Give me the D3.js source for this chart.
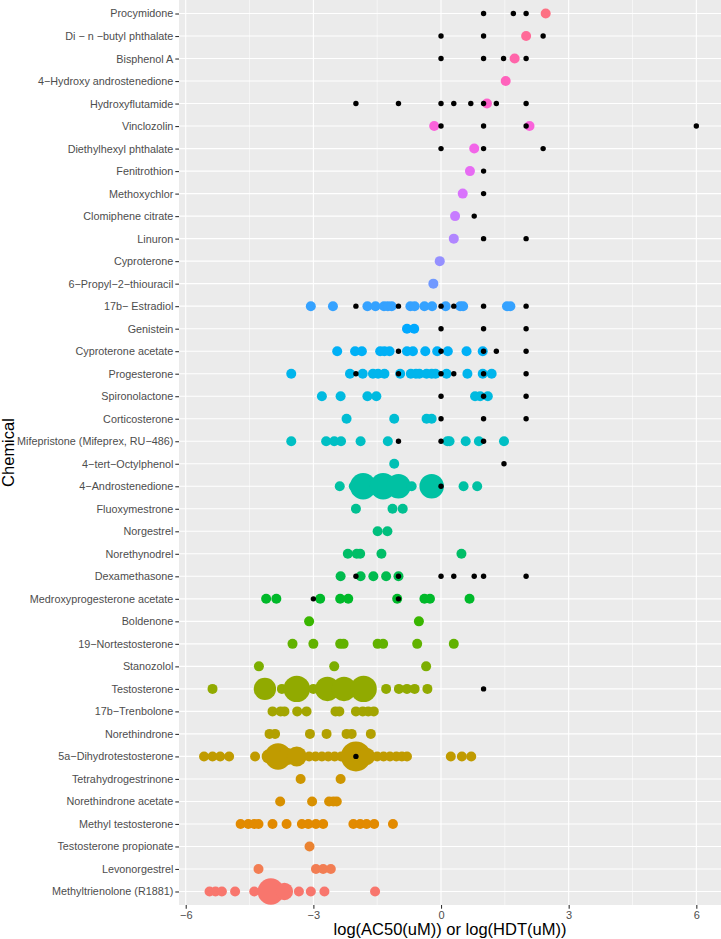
<!DOCTYPE html>
<html>
<head>
<meta charset="utf-8">
<script src="https://cdn.jsdelivr.net/npm/d3@7"></script>
<style>
  html, body { margin: 0; padding: 0; background: #ffffff; }
  svg { display: block; }
  text { font-family: "Liberation Sans", Arial, sans-serif; }
</style>
</head>
<body>
<div id="chart"></div>
<script>
// ---------------- DATA ----------------
const chemicals = [
  "Procymidone", "Di − n −butyl phthalate", "Bisphenol A", "4−Hydroxy androstenedione",
  "Hydroxyflutamide", "Vinclozolin", "Diethylhexyl phthalate", "Fenitrothion",
  "Methoxychlor", "Clomiphene citrate", "Linuron", "Cyproterone",
  "6−Propyl−2−thiouracil", "17b− Estradiol", "Genistein", "Cyproterone acetate",
  "Progesterone", "Spironolactone", "Corticosterone", "Mifepristone (Mifeprex, RU−486)",
  "4−tert−Octylphenol", "4−Androstenedione", "Fluoxymestrone", "Norgestrel",
  "Norethynodrel", "Dexamethasone", "Medroxyprogesterone acetate", "Boldenone",
  "19−Nortestosterone", "Stanozolol", "Testosterone", "17b−Trenbolone",
  "Norethindrone", "5a−Dihydrotestosterone", "Tetrahydrogestrinone", "Norethindrone acetate",
  "Methyl testosterone", "Testosterone propionate", "Levonorgestrel", "Methyltrienolone (R1881)"
];

// log(AC50) values (coloured points), one list per chemical (same order as chemicals)
const ac50Values = [
  [2.46],
  [2.00],
  [1.73],
  [1.52],
  [1.08],
  [-0.16, 2.08],
  [0.78],
  [0.68],
  [0.51],
  [0.33],
  [0.30],
  [-0.03],
  [-0.18],
  [-3.06, -2.54, -1.73, -1.54, -1.34, -1.25, -1.16, -0.72, -0.62, -0.39, -0.21, 0.11, 0.45, 0.52, 1.55, 1.63],
  [-0.80, -0.63],
  [-2.44, -2.02, -1.86, -1.43, -1.33, -1.21, -0.80, -0.66, -0.37, -0.09, 0.16, 0.60, 0.98],
  [-3.52, -2.14, -1.84, -1.60, -1.48, -1.33, -0.96, -0.71, -0.59, -0.51, -0.34, -0.22, -0.13, 0.13, 0.62, 0.98, 1.19],
  [-2.80, -2.36, -1.73, -1.52, 0.80, 0.92, 1.10],
  [-2.22, -1.10, -0.34, -0.22],
  [-3.52, -2.70, -2.51, -2.35, -1.89, -1.25, 0.15, 0.20, 0.58, 0.89, 1.48],
  [-1.10],
  [-2.38, -2.05, -1.83, -1.36, -1.00, -0.69, -0.22, 0.53, 0.85],
  [-2.00, -1.14, -0.90],
  [-1.49, -1.26],
  [-2.19, -1.98, -1.90, -1.40, 0.48],
  [-2.36, -1.89, -1.59, -1.29, -1.00],
  [-4.11, -3.87, -2.84, -2.37, -2.18, -1.03, -0.39, -0.26, 0.67],
  [-3.10, -0.52],
  [-3.49, -3.00, -2.37, -2.29, -1.49, -1.36, -0.56, 0.30],
  [-4.28, -2.51, -0.35],
  [-5.37, -4.14, -3.74, -3.39, -3.00, -2.67, -2.28, -1.82, -1.29, -0.99, -0.80, -0.62, -0.32],
  [-3.96, -3.77, -3.68, -3.38, -3.16, -2.48, -2.39, -2.00, -1.84, -1.71, -1.58],
  [-4.03, -3.90, -3.08, -2.69, -2.22, -2.10, -1.65],
  [-5.57, -5.37, -5.19, -4.98, -4.37, -4.05, -3.83, -3.62, -3.39, -3.10, -2.95, -2.80, -2.65, -2.50, -2.35, -2.20, -2.00, -1.75, -1.50, -1.35, -1.20, -1.05, -0.92, -0.80, 0.23, 0.49, 0.71],
  [-3.30, -2.36],
  [-3.78, -3.03, -2.63, -2.53, -2.45],
  [-4.71, -4.53, -4.39, -4.29, -3.96, -3.63, -3.27, -3.12, -2.94, -2.77, -2.06, -1.90, -1.75, -1.57, -1.13],
  [-3.09],
  [-4.29, -2.94, -2.77, -2.59],
  [-5.44, -5.30, -5.15, -4.84, -4.39, -4.00, -3.68, -3.34, -3.06, -2.74, -1.55]
];

// number of overlapping AC50 results at each value (sets point size)
const ac50Counts = [
  [1], [1], [1], [1], [1], [1, 1], [1], [1], [1], [1], [1], [1], [1],
  [1, 1, 1, 1, 1, 1, 1, 1, 1, 1, 1, 1, 1, 1, 1, 1],
  [1, 1],
  [1, 1, 1, 1, 1, 1, 1, 1, 1, 1, 1, 1, 1],
  [1, 1, 1, 1, 1, 1, 1, 1, 1, 1, 1, 1, 1, 1, 1, 1, 1],
  [1, 1, 1, 1, 1, 1, 1],
  [1, 1, 1, 1],
  [1, 1, 1, 1, 1, 1, 1, 1, 1, 1, 1],
  [1],
  [1, 1, 7, 7, 6, 1, 6, 1, 1],
  [1, 1, 1],
  [1, 1],
  [1, 1, 1, 1, 1],
  [1, 1, 1, 1, 1],
  [1, 1, 1, 1, 1, 1, 1, 1, 1],
  [1, 1],
  [1, 1, 1, 1, 1, 1, 1, 1],
  [1, 1, 1],
  [1, 5, 1, 7, 1, 6, 6, 7, 1, 1, 1, 1, 1],
  [1, 1, 1, 1, 1, 1, 1, 1, 1, 1, 1],
  [1, 1, 1, 1, 1, 1, 1],
  [1, 1, 1, 1, 1, 2, 7, 3, 4, 1, 1, 1, 1, 1, 1, 2, 9, 3, 1, 1, 1, 1, 1, 1, 1, 1, 1],
  [1, 1],
  [1, 1, 1, 1, 1],
  [1, 1, 1, 1, 1, 1, 1, 1, 1, 1, 1, 1, 1, 1, 1],
  [1],
  [1, 1, 1, 1],
  [1, 1, 1, 1, 1, 7, 3, 1, 1, 1, 1]
];

// log(HDT) values (black points)
const hdtValues = [
  [1, 1.7, 2],
  [0, 1, 2.4],
  [0, 1, 1.47, 2],
  [],
  [-2, -1, 0, 0.3, 0.7, 1, 1.3, 2],
  [0, 1, 2, 6],
  [0, 1, 2.4],
  [1],
  [1],
  [0.78],
  [1, 2],
  [],
  [],
  [-2, -1, 0, 0.3, 1, 2],
  [0, 1, 2],
  [-1, 0, 1, 1.3, 2],
  [-2, -1, 0, 0.3, 1, 2],
  [0, 1, 2],
  [0, 1, 2],
  [-1, 0, 1],
  [1.48],
  [0],
  [],
  [],
  [],
  [-2, -1, 0, 0.3, 0.78, 1, 2],
  [-3, -1],
  [],
  [],
  [],
  [1],
  [],
  [],
  [-2],
  [], [], [], [], [], []
];

const xTicks = [-6, -3, 0, 3, 6];
const xMinor = [-4.5, -1.5, 1.5, 4.5];
const xTitle = "log(AC50(uM)) or log(HDT(uM))";
const yTitle = "Chemical";

// ---------------- COLOURS (ggplot hue palette, polar LUV) ----------------
function hclLuv(h, c, l) {
  const hr = h * Math.PI / 180;
  const U = c * Math.cos(hr), V = c * Math.sin(hr);
  const Xn = 95.047, Yn = 100, Zn = 108.883;
  const den = Xn + 15 * Yn + 3 * Zn;
  const un = 4 * Xn / den, vn = 9 * Yn / den;
  const Y = l > 8 ? Yn * Math.pow((l + 16) / 116, 3) : Yn * l / 903.3;
  const up = U / (13 * l) + un, vp = V / (13 * l) + vn;
  const X = Y * 9 * up / (4 * vp);
  const Z = Y * (12 - 3 * up - 20 * vp) / (4 * vp);
  const x = X / 100, y = Y / 100, z = Z / 100;
  let r = 3.2404542 * x - 1.5371385 * y - 0.4985314 * z;
  let g = -0.9692660 * x + 1.8760108 * y + 0.0415560 * z;
  let b = 0.0556434 * x - 0.2040259 * y + 1.0572252 * z;
  const gam = v => {
    v = v <= 0.0031308 ? 12.92 * v : 1.055 * Math.pow(v, 1 / 2.4) - 0.055;
    return Math.round(Math.max(0, Math.min(1, v)) * 255);
  };
  return d3.rgb(gam(r), gam(g), gam(b)).formatHex();
}
const nLev = chemicals.length;
const colorOf = i => hclLuv(15 + 360 * (nLev - 1 - i) / nLev, 100, 65);

// ---------------- LAYOUT ----------------
const W = 721, H = 939;
const panel = { left: 179, right: 721, top: 0, bottom: 905 };

const svg = d3.select("#chart").append("svg")
  .attr("width", W).attr("height", H);

const x = d3.scaleLinear().domain([-6.158, 6.58]).range([panel.left, panel.right]);
const y = d3.scalePoint().domain(chemicals).range([panel.top, panel.bottom]).padding(0.6);
const rScale = d3.scaleSqrt().domain([0, 9]).range([0, 15]);

// panel background
svg.append("rect")
  .attr("x", panel.left).attr("y", panel.top)
  .attr("width", panel.right - panel.left).attr("height", panel.bottom - panel.top)
  .attr("fill", "#EBEBEB");

// minor vertical grid
svg.append("g").selectAll("line").data(xMinor).join("line")
  .attr("x1", d => x(d)).attr("x2", d => x(d))
  .attr("y1", panel.top).attr("y2", panel.bottom)
  .attr("stroke", "#ffffff").attr("stroke-width", 0.55);

// major vertical grid
svg.append("g").selectAll("line").data(xTicks).join("line")
  .attr("x1", d => x(d)).attr("x2", d => x(d))
  .attr("y1", panel.top).attr("y2", panel.bottom)
  .attr("stroke", "#ffffff").attr("stroke-width", 1.1);

// horizontal grid
svg.append("g").selectAll("line").data(chemicals).join("line")
  .attr("x1", panel.left).attr("x2", panel.right)
  .attr("y1", d => y(d)).attr("y2", d => y(d))
  .attr("stroke", "#ffffff").attr("stroke-width", 1.1);

// ---------------- POINTS ----------------
const colPts = [];
chemicals.forEach((c, i) => {
  ac50Values[i].forEach((v, j) => colPts.push({ c, i, v, n: ac50Counts[i][j] }));
});
const blkPts = [];
chemicals.forEach((c, i) => {
  hdtValues[i].forEach(v => blkPts.push({ c, v }));
});

svg.append("g").selectAll("circle").data(colPts).join("circle")
  .attr("cx", d => x(d.v)).attr("cy", d => y(d.c))
  .attr("r", d => rScale(d.n))
  .attr("fill", d => colorOf(d.i));

svg.append("g").selectAll("circle").data(blkPts).join("circle")
  .attr("cx", d => x(d.v)).attr("cy", d => y(d.c))
  .attr("r", 2.7)
  .attr("fill", "#000000");

// ---------------- AXES ----------------
const xAxis = d3.axisBottom(x).tickValues(xTicks).tickSize(3.7).tickPadding(2)
  .tickFormat(d => d < 0 ? "−" + Math.abs(d) : String(d));
const gx = svg.append("g").attr("transform", `translate(0,${panel.bottom})`).call(xAxis);
gx.select(".domain").remove();
gx.selectAll(".tick line").attr("stroke", "#333333").attr("stroke-width", 1.1);
gx.selectAll(".tick text").attr("fill", "#4D4D4D").style("font-size", "11px");

const yAxis = d3.axisLeft(y).tickSize(3.7).tickPadding(2);
const gy = svg.append("g").attr("transform", `translate(${panel.left},0)`).call(yAxis);
gy.select(".domain").remove();
gy.selectAll(".tick line").attr("stroke", "#333333").attr("stroke-width", 1.1);
gy.selectAll(".tick text").attr("fill", "#4D4D4D").style("font-size", "10.8px");

// titles
svg.append("text")
  .attr("x", (panel.left + panel.right) / 2).attr("y", 935)
  .attr("text-anchor", "middle").attr("fill", "#000")
  .style("font-size", "16.5px").text(xTitle);

svg.append("text")
  .attr("transform", `translate(14,${(panel.top + panel.bottom) / 2}) rotate(-90)`)
  .attr("text-anchor", "middle").attr("fill", "#000")
  .style("font-size", "16.5px").text(yTitle);
</script>
</body>
</html>
